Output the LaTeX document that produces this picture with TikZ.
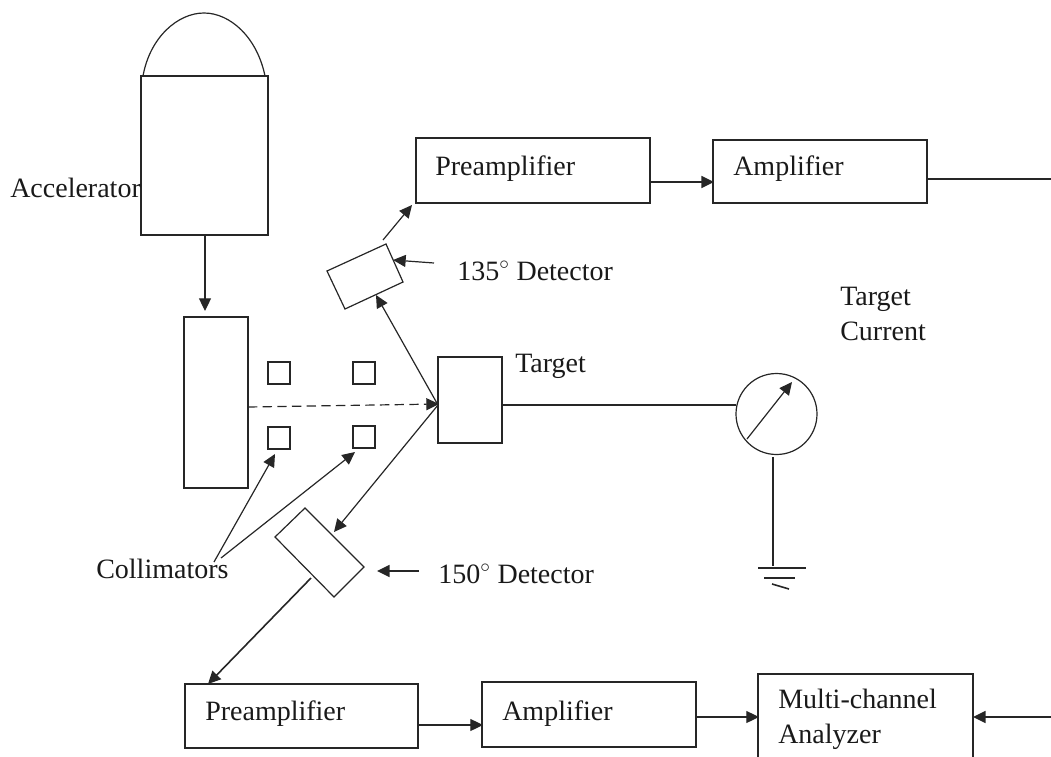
\documentclass[tikz,border=0pt]{standalone}
\usepackage{fontspec}
\setmainfont{Liberation Serif}
\usetikzlibrary{arrows.meta}
\tikzset{
 ln/.style={draw=black!85,line width=0.9pt},
 tip/.style={-{Triangle[length=9.5pt,width=9pt]}},
 arr/.style={ln,tip},
 lab/.style={inner sep=0pt,anchor=base west,font=\fontsize{21pt}{25pt}\selectfont,text=black!90},
}
\begin{document}
\begin{tikzpicture}[x=0.75pt,y=-0.75pt]
\useasboundingbox (0,0) rectangle (1051,757);
% accelerator
\draw[ln] (141,76) rectangle (268,235);
\coordinate (acctl) at (143,76); \coordinate (acctr) at (265,76); \coordinate (accb) at (205,235);
\draw[ln] (acctl) .. controls (150,37) and (178,13) .. (204,13) .. controls (230,13) and (257,37) .. (acctr);
\node[lab] (acclab) at (10,197) {Accelerator};
% slit box
\draw[ln] (184,317) rectangle (248,488);
\coordinate (slitr) at (248,407);
\draw[arr] (accb) -- (205,311);
% collimators
\draw[ln] (268,362) rectangle (290,384);
\draw[ln] (353,362) rectangle (375,384);
\draw[ln] (268,427) rectangle (290,449);
\draw[ln] (353,426) rectangle (375,448);
% target
\draw[ln] (438,357) rectangle (502,443);
\coordinate (tgtl) at (439,404); \coordinate (tgtc) at (438,405); \coordinate (tgtr) at (502,405);
\node[lab] (tl) at (515,372) {Target};
\draw[arr,dashed,dash pattern=on 7pt off 4pt] (slitr) -- (tgtl);
% preamp top
\draw[ln] (416,138) rectangle (650,203);
\node[lab] (pt) at (435,175) {Preamplifier};
\draw[ln] (713,140) rectangle (927,203);
\node[lab] (at) at (733,175) {Amplifier};
\draw[arr,line width=1.2pt] (650,182) -- (714,182);
\coordinate (r1) at (1051,179);
\draw[ln] (927,179) -- (r1);
% 135 detector
\draw[ln] (327,271) -- (386,244) -- (403,282) -- (345,309) -- cycle;
\draw[arr] (383,240) -- (412,205);
\draw[arr] (434,263) -- (393,260);
\node[lab] (d135) at (457,280) {135$^{\circ}$ Detector};
\draw[arr] (tgtc) -- (376,295);
% meter
\coordinate (mc) at (776.5,414);
\draw[ln] (tgtr) -- (736,405);
\draw[ln] (mc) circle (40.5);
\draw[arr] (747,439) -- (792,382);
\node[lab] (tt) at (840,305) {Target};
\node[lab] (tc) at (840,340) {Current};
\coordinate (g) at (773,566);
\draw[ln] (773,457) -- (g);
\draw[ln] (758,568) -- (806,568) (764,578) -- (795,578);
\draw[ln,line width=1.2pt] (772,584) -- (789,589);
% 150 detector
\draw[ln] (305,508) -- (364,567) -- (334,597) -- (275,537) -- cycle;
\draw[arr] (tgtc) -- (334,532);
\draw[arr,line width=1.2pt] (419,571) -- (377,571);
\node[lab] (d150) at (438,583) {150$^{\circ}$ Detector};
% collimators label
\node[lab] (col) at (96,578) {Collimators};
\coordinate (cs) at (214,562); \coordinate (cs2) at (221,558);
\draw[arr] (cs) -- (275,454);
\draw[arr] (cs2) -- (355,452);
% bottom row
\draw[arr,line width=1.2pt] (311,578) -- (208,684);
\draw[ln] (185,684) rectangle (418,748);
\node[lab] (pb) at (205,720) {Preamplifier};
\draw[ln] (482,682) rectangle (696,747);
\node[lab] (ab) at (502,720) {Amplifier};
\draw[arr] (418,725) -- (483,725);
\draw[arr] (696,717) -- (759,717);
\draw[ln] (758,757) -- (758,674) -- (973,674) -- (973,757);
\node[lab] (m1) at (778,708) {Multi-channel};
\node[lab] (m2) at (778,743) {Analyzer};
\coordinate (r2) at (1051,717);
\draw[arr,line width=1.2pt] (r2) -- (973,717);
\end{tikzpicture}
\end{document}
